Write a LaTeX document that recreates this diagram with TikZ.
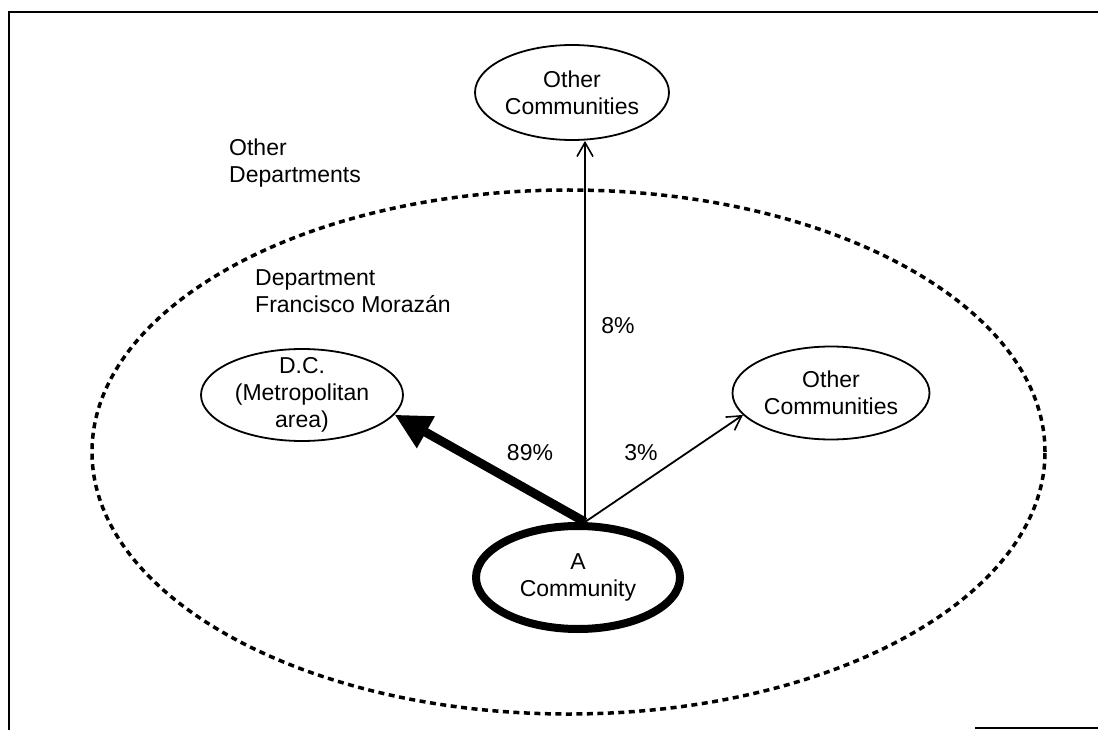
\documentclass[tikz,border=0pt]{standalone}
\usepackage{fontspec}
\setmainfont{Liberation Sans}
\usetikzlibrary{shapes.geometric,arrows.meta}
\begin{document}
\begin{tikzpicture}[x=1pt,y=-1pt,
  every node/.style={font=\fontsize{23}{27}\selectfont},
  place/.style={ellipse,draw,line width=1.8pt,inner sep=0pt,align=center},
  home/.style={ellipse,draw,line width=8pt,inner sep=0pt,align=center,
    minimum width=204pt,minimum height=103pt},
  region/.style={ellipse,draw,line width=3.5pt,dash pattern=on 6pt off 4.5pt,
    inner sep=0pt,minimum width=953pt,minimum height=524pt},
  caption/.style={anchor=north west,inner sep=0pt,align=left},
  share/.style={inner sep=0pt},
  flow/.style={line width=1.8pt,-{Straight Barb[length=14pt,width=16pt,line width=1.6pt]}},
  mainflow/.style={line width=9pt,-{Triangle[length=36pt,width=34pt]}},
  frame/.style={line width=2.6pt}
]
\useasboundingbox (0,0) rectangle (1098,730);

% frame around the figure
\draw[frame] (9,730) -- (9,12) -- (1098,12);
\draw[frame] (975,728) -- (1098,728);

% department boundary
\node[region] (dept) at (568.5,452) {};

% places
\node[place,minimum width=194pt,minimum height=95pt] (oc1) at (572,92.5) {Other\\Communities};
\node[place,minimum width=197pt,minimum height=93pt] (oc2) at (831,393) {Other\\Communities};
\node[place,minimum width=202pt,minimum height=92pt,inner ysep=-6pt] (dc) at (302,395)
  {D.C.\\(Metropolitan\\area)};
\node[home] (home) at (578,577.5) {A\\Community};

% region captions
\node[caption] (otherdep) at (229,139) {Other\\Departments};
\node[caption] (fmdep) at (255,269) {Department\\Francisco Morazán};

% flows out of the community
\coordinate (src) at ([xshift=7pt]home.north);
\draw[mainflow] (src) -- (dc.-12);
\draw[flow] (src) -- (src |- oc1.south);
\draw[flow] (src) -- (oc2.194);

% shares
\node[share] (p8) at (618,326) {8\%};
\node[share] (p89) at (530,453) {89\%};
\node[share] (p3) at (641,453) {3\%};
\end{tikzpicture}
\end{document}
